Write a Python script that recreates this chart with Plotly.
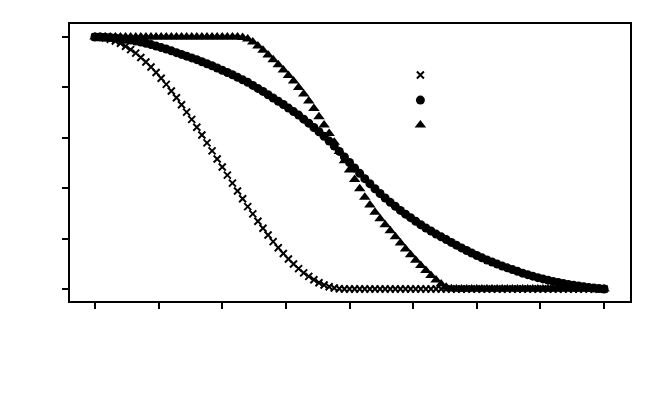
import plotly.graph_objects as go

# sample positions (101 evenly spaced samples on the x axis)
xs = [i / 100 for i in range(101)]

# series
crosses = [
    1.000, 0.999, 0.996, 0.991, 0.984, 0.975, 0.963, 0.950, 0.936, 0.919,
    0.901, 0.881, 0.859, 0.836, 0.812, 0.786, 0.759, 0.731, 0.702, 0.673,
    0.642, 0.611, 0.580, 0.548, 0.516, 0.484, 0.452, 0.420, 0.389, 0.358,
    0.327, 0.298, 0.269, 0.241, 0.214, 0.188, 0.164, 0.141, 0.119, 0.099,
    0.081, 0.064, 0.050, 0.037, 0.025, 0.016, 0.009, 0.004, 0.001, 0.000,
] + [0.0] * 51

circles = [
    1.000, 1.000, 0.999, 0.998, 0.996, 0.994, 0.991, 0.988, 0.984, 0.980,
    0.975, 0.970, 0.964, 0.958, 0.952, 0.945, 0.938, 0.931, 0.924, 0.917,
    0.910, 0.902, 0.894, 0.886, 0.877, 0.868, 0.859, 0.850, 0.840, 0.830,
    0.820, 0.808, 0.796, 0.784, 0.771, 0.758, 0.745, 0.732, 0.718, 0.704,
    0.690, 0.674, 0.658, 0.641, 0.624, 0.606, 0.587, 0.567, 0.546, 0.524,
    0.502, 0.480, 0.459, 0.438, 0.418, 0.398, 0.379, 0.361, 0.344, 0.328,
    0.312, 0.297, 0.283, 0.269, 0.255, 0.242, 0.230, 0.218, 0.207, 0.196,
    0.185, 0.174, 0.163, 0.153, 0.143, 0.133, 0.124, 0.115, 0.107, 0.099,
    0.091, 0.084, 0.077, 0.070, 0.063, 0.057, 0.051, 0.045, 0.040, 0.035,
    0.030, 0.026, 0.022, 0.018, 0.015, 0.012, 0.009, 0.006, 0.004, 0.002,
    0.000,
]

triangles = [1.0] * 29 + [
    0.998, 0.992, 0.980, 0.964, 0.947, 0.929, 0.910, 0.890, 0.869, 0.847,
    0.825, 0.800, 0.774, 0.746, 0.716, 0.684, 0.651, 0.617, 0.582, 0.546,
    0.509, 0.472, 0.435, 0.398, 0.364, 0.333, 0.305, 0.279, 0.255, 0.231,
    0.207, 0.183, 0.159, 0.136, 0.114, 0.093, 0.073, 0.054, 0.036, 0.020,
    0.007, 0.001,
] + [0.0] * 30

fig = go.Figure()
fig.add_trace(go.Scatter(x=xs, y=crosses, mode="markers", name=" ", legendgroup="a",
                         marker=dict(symbol="x-thin", size=7, color="black",
                                     line=dict(width=2, color="black"))))
fig.add_trace(go.Scatter(x=xs, y=circles, mode="markers", name=" ", legendgroup="b",
                         marker=dict(symbol="circle", size=9, color="black")))
fig.add_trace(go.Scatter(x=xs, y=triangles, mode="markers", name=" ", legendgroup="c",
                         marker=dict(symbol="triangle-up", size=10, color="black")))

axis_style = dict(showgrid=False, zeroline=False, showline=True, linecolor="black",
                  linewidth=2, mirror=True, ticks="outside", ticklen=6, tickwidth=1.5,
                  tickcolor="black", showticklabels=False)

fig.update_xaxes(range=[-0.0491, 1.051], tick0=0, dtick=0.125, **axis_style)
fig.update_yaxes(range=[-0.0476, 1.0516], tick0=0, dtick=0.2, **axis_style)

# page body adds an 8px margin, so the figure is a little smaller than the window
fig.update_layout(
    width=656, height=389,
    margin=dict(l=62, r=34, t=16, b=96),
    plot_bgcolor="white", paper_bgcolor="white",
    legend=dict(x=0.59, y=0.868, xanchor="left", yanchor="top",
                bgcolor="rgba(0,0,0,0)", font=dict(size=12), tracegroupgap=6),
    showlegend=True,
)

fig.write_html("out.html")
